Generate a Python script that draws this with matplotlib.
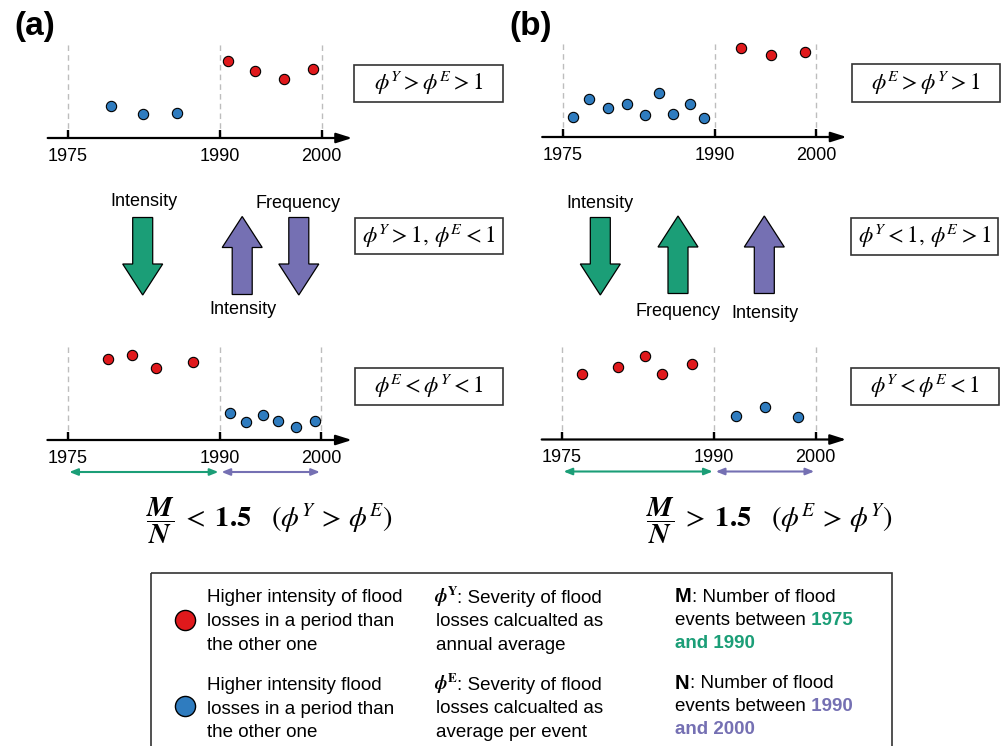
import matplotlib
matplotlib.use("Agg")
import matplotlib.pyplot as plt
from matplotlib.patches import FancyArrow, Rectangle

plt.rcParams['font.family'] = 'Liberation Sans'
plt.rcParams['mathtext.fontset'] = 'stix'

RED = '#e0191c'
BLUE = '#2f7cbf'
GREEN = '#1b9e77'
PURPLE = '#7570b3'
GRAY = '#bdbdbd'

# ---- data: event year and relative loss level ----
tick_years = [1975, 1990, 2000]
periods = [(1975, 1990, GREEN), (1990, 2000, PURPLE)]

a_top_blue_years = [1979.2, 1982.4, 1985.7]
a_top_blue_vals = [32, 24, 25]
a_top_red_years = [1990.8, 1993.4, 1996.3, 1999.1]
a_top_red_vals = [77, 67, 59, 69]

b_top_blue_years = [1976.0, 1977.6, 1979.5, 1981.4, 1983.1, 1984.5, 1985.9, 1987.6, 1988.9]
b_top_blue_vals = [20, 38, 29, 33, 22, 44, 23, 33, 19]
b_top_red_years = [1992.6, 1995.5, 1998.9]
b_top_red_vals = [89, 82, 85]

a_bot_red_years = [1979.0, 1981.3, 1983.7, 1987.3]
a_bot_red_vals = [81, 85, 72, 78]
a_bot_blue_years = [1991.0, 1992.6, 1994.2, 1995.7, 1997.5, 1999.4]
a_bot_blue_vals = [27, 18, 25, 19, 13, 19]

b_bot_red_years = [1977.0, 1980.5, 1983.2, 1984.9, 1987.8]
b_bot_red_vals = [66, 73, 84, 66, 76]
b_bot_blue_years = [1992.1, 1995.0, 1998.3]
b_bot_blue_vals = [24, 33, 23]

W, H = 1003, 746
PPY = 10.15  # pixels per year

fig = plt.figure(figsize=(W / 100, H / 100), dpi=100)

# overlay in pixel units for the diagram parts
ov = fig.add_axes([0, 0, 1, 1])
ov.set_xlim(0, W)
ov.set_ylim(H, 0)
ov.axis('off')


def timeline(x1975, yline, red_x, red_y, blue_x, blue_y, spans=False):
    left = x1975 - 2 * PPY
    ax = fig.add_axes([left / W, (H - yline) / H, 30 * PPY / W, 100 / H])
    ax.set_xlim(1973, 2003)
    ax.set_ylim(0, 100)
    for s in ax.spines.values():
        s.set_visible(False)
    ax.patch.set_alpha(0)
    ax.set_yticks([])
    ax.set_xticks(tick_years)
    ax.tick_params(axis='x', direction='in', length=6, width=1.7, pad=7, labelsize=13)
    ax.vlines(tick_years, 0, 97, colors=GRAY, linestyles=(0, (4, 3)), lw=1, zorder=1)
    ax.annotate('', xy=(2003, 0), xytext=(1973, 0),
                arrowprops=dict(arrowstyle='-|>,head_length=0.95,head_width=0.3',
                                mutation_scale=10, color='black', lw=1.6,
                                shrinkA=0, shrinkB=0),
                annotation_clip=False)
    ax.scatter(red_x, red_y, s=55, c=RED, edgecolors='black', linewidths=0.8,
               zorder=3, clip_on=False)
    ax.scatter(blue_x, blue_y, s=55, c=BLUE, edgecolors='black', linewidths=0.8,
               zorder=3, clip_on=False)
    if spans:
        for y0, y1, col in periods:
            ax.annotate('', xy=(y1 - 0.15, -32), xytext=(y0 + 0.15, -32),
                        arrowprops=dict(arrowstyle='<|-|>,head_length=0.5,head_width=0.2',
                                        mutation_scale=10, color=col, lw=1.5,
                                        shrinkA=0, shrinkB=0),
                        annotation_clip=False)
    return ax


timeline(68, 138, a_top_red_years, a_top_red_vals, a_top_blue_years, a_top_blue_vals)
timeline(562.5, 137, b_top_red_years, b_top_red_vals, b_top_blue_years, b_top_blue_vals)
timeline(67.7, 440, a_bot_red_years, a_bot_red_vals, a_bot_blue_years, a_bot_blue_vals, spans=True)
timeline(562, 439.5, b_bot_red_years, b_bot_red_vals, b_bot_blue_years, b_bot_blue_vals, spans=True)

# panel letters
ov.text(35, 27, '(a)', fontsize=24, fontweight='bold', ha='center', va='center')
ov.text(531, 27, '(b)', fontsize=24, fontweight='bold', ha='center', va='center')

# condition boxes
boxes = [
    (354, 65, 149, 37, r'$\phi^Y > \phi^E > 1$'),
    (355, 218, 148, 36, r'$\phi^Y > 1,\, \phi^E < 1$'),
    (355, 368, 148, 37, r'$\phi^E < \phi^Y < 1$'),
    (852, 64, 148, 38, r'$\phi^E > \phi^Y > 1$'),
    (851, 218, 147, 37, r'$\phi^Y < 1,\, \phi^E > 1$'),
    (851, 368, 148, 37, r'$\phi^Y < \phi^E < 1$'),
]
for x, y, w, h, t in boxes:
    ov.add_patch(Rectangle((x, y), w, h, fill=False, ec='#333333', lw=1.2))
    ov.text(x + w / 2, y + h / 2, t, fontsize=16.5, ha='center', va='center')


# block arrows
def block(x, y0, y1, col):
    ov.add_patch(FancyArrow(x, y0, 0, y1 - y0, width=20, head_width=40, head_length=31,
                            length_includes_head=True, fc=col, ec='black', lw=0.9))


block(142.7, 217.5, 295, GREEN)
block(242.2, 294.5, 216.5, PURPLE)
block(298.8, 217.5, 295, PURPLE)
block(600.3, 217.5, 295, GREEN)
block(678, 293.5, 216, GREEN)
block(764.3, 293.5, 216, PURPLE)

ov.text(144, 202, 'Intensity', fontsize=13, ha='center', va='center')
ov.text(243, 309, 'Intensity', fontsize=13, ha='center', va='center')
ov.text(298, 204, 'Frequency', fontsize=13, ha='center', va='center')
ov.text(600, 203, 'Intensity', fontsize=13, ha='center', va='center')
ov.text(678, 311, 'Frequency', fontsize=13, ha='center', va='center')
ov.text(765, 313, 'Intensity', fontsize=13, ha='center', va='center')

# ratio formulas
ov.text(270, 521,
        r'$\dfrac{\boldsymbol{M}}{\boldsymbol{N}}\;<\;\mathbf{1.5}\quad(\phi^Y\,>\,\phi^E)$',
        fontsize=20.5, ha='center', va='center')
ov.text(770, 521,
        r'$\dfrac{\boldsymbol{M}}{\boldsymbol{N}}\;>\;\mathbf{1.5}\quad(\phi^E\,>\,\phi^Y)$',
        fontsize=20.5, ha='center', va='center')

# legend box
ov.add_patch(Rectangle((151, 573), 741, 200, fill=False, ec='#333333', lw=1.2, clip_on=False))
ov.plot([185], [620], 'o', ms=14.5, mfc=RED, mec='black', mew=1)
ov.plot([185], [706], 'o', ms=14.5, mfc=BLUE, mec='black', mew=1)
LS = 1.5
FS = 13.5
ov.text(207, 621.5, 'Higher intensity of flood\nlosses in a period than\nthe other one',
        fontsize=FS, va='center', linespacing=LS)
ov.text(207, 709, 'Higher intensity flood\nlosses in a period than\nthe other one',
        fontsize=FS, va='center', linespacing=LS)

ov.text(434, 597, r'$\boldsymbol{\phi}^{\mathbf{Y}}$', fontsize=13.5, va='center')
ov.text(457, 598.5, ': Severity of flood', fontsize=FS, va='center')
ov.text(436, 633.5, 'losses calcualted as\nannual average', fontsize=FS, va='center',
        linespacing=LS)
ov.text(434, 684, r'$\boldsymbol{\phi}^{\mathbf{E}}$', fontsize=13.5, va='center')
ov.text(457, 685.5, ': Severity of flood', fontsize=FS, va='center')
ov.text(436, 720.5, 'losses calcualted as\naverage per event', fontsize=FS, va='center',
        linespacing=LS)


def chain(prev, s, **kw):
    return ov.annotate(s, xy=(1, 0.5), xycoords=prev, va='center', fontsize=FS, **kw)


for letter, y, c, y0, y1 in [('M', 597, GREEN, '1975', '1990'),
                             ('N', 683.5, PURPLE, '1990', '2000')]:
    t = ov.text(675, y, letter, fontsize=FS + 1, fontweight='bold', va='center')
    chain(t, ': Number of flood')
    t2 = ov.text(675, y + 23.3, 'events between', fontsize=FS, va='center')
    chain(t2, ' ' + y0, color=c, fontweight='bold')
    ov.text(675, y + 46, 'and ' + y1, fontsize=FS, va='center', color=c, fontweight='bold')

fig.savefig('out.png', dpi=100)
